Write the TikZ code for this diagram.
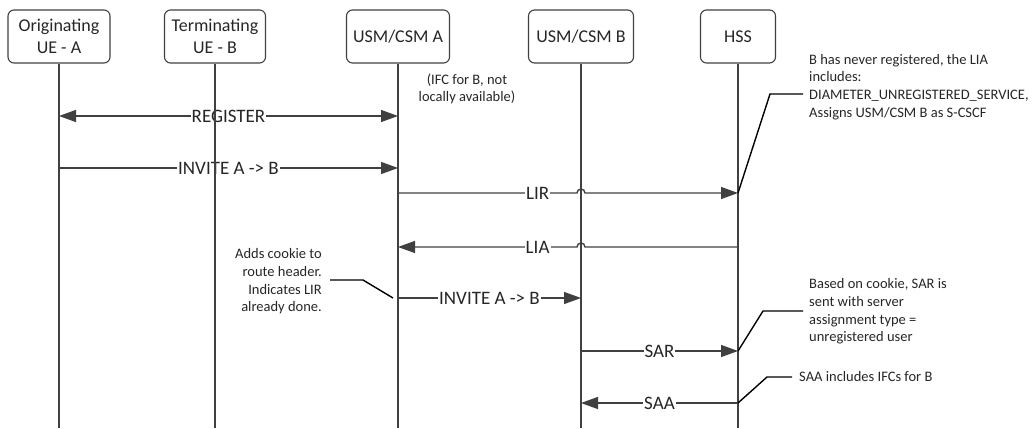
\documentclass[tikz,border=0pt]{standalone}
\usepackage{fontspec}
\setmainfont{Carlito}
\usepackage{tikz}
\usetikzlibrary{calc,arrows.meta}
\definecolor{linegray}{HTML}{404040}
\definecolor{textgray}{HTML}{262626}

\begin{document}
\begin{tikzpicture}[x=1pt,y=-1pt,
    boxnode/.style={draw=linegray, line width=1.1pt, rounded corners=6pt, minimum height=53pt, align=center, text=textgray, font=\fontsize{18}{22}\selectfont, inner sep=1pt},
    msgnode/.style={fill=white, text=textgray, inner sep=1pt, font=\fontsize{19}{20}\selectfont},
    notenode/.style={text=textgray, inner sep=0pt, font=\fontsize{14.5}{17.6}\selectfont},
    life/.style={draw=linegray, line width=1.4pt},
    msg/.style={draw=linegray, line width=1.4pt},
    leader/.style={draw=black, line width=1.4pt}]
    \useasboundingbox (0,0) rectangle (1035,428);

    \tikzset{>={Triangle[length=17pt,width=12pt]}}

    \node[boxnode, minimum width=102pt] (ueA) at (59,36.5) {Originating\\UE - A};
    \node[boxnode, minimum width=101pt] (ueB) at (215,36.5) {Terminating\\UE - B};
    \node[boxnode, minimum width=103pt] (usmA) at (398,36.5) {USM/CSM A};
    \node[boxnode, minimum width=105pt] (usmB) at (581,36.5) {USM/CSM B};
    \node[boxnode, minimum width=75pt] (hss) at (738,36.5) {HSS};

    \coordinate (bottom) at (0,428);
    \coordinate (r1) at (0,116);
    \coordinate (r2) at (0,168);
    \coordinate (r3) at (0,193);
    \coordinate (r4) at (0,247);
    \coordinate (r5) at (0,298);
    \coordinate (r6) at (0,351);
    \coordinate (r7) at (0,403);

    \node[notenode, align=center] (ifcnote) at (467,89) {(IFC for B, not\\locally available)};
    \node[notenode, align=left, anchor=west] (hssnote) at (809,87) {B has never registered, the LIA\\includes:\\DIAMETER\_UNREGISTERED\_SERVICE,\\Assigns USM/CSM B as S-CSCF};
    \node[notenode, align=right, anchor=east] (cookienote) at (322,281.5) {Adds cookie to\\route header.\\Indicates LIR\\already done.};
    \node[notenode, align=left, anchor=west] (sarnote) at (809,311.5) {Based on cookie, SAR is\\sent with server\\assignment type =\\unregistered user};
    \node[notenode, align=left, anchor=west] (saanote) at (799,377) {SAA includes IFCs for B};

    \draw[msg, <->] (ueA |- r1) -- node[msgnode] {REGISTER} (usmA |- r1);
    \draw[msg, ->] (ueA |- r2) -- node[msgnode] {INVITE A -> B} (usmA |- r2);
    \draw[msg, ->] (usmA |- r3) -- node[msgnode, pos=0.78] {LIR} ($(usmB |- r3)+(-4,0)$) arc[start angle=180, end angle=0, radius=4pt] -- (hss |- r3);
    \draw[msg, ->] (hss |- r4) -- ($(usmB |- r4)+(4,0)$) arc[start angle=0, end angle=180, radius=4pt] -- node[msgnode, pos=0.22] {LIA} (usmA |- r4);
    \draw[msg, ->] (usmA |- r5) -- node[msgnode] {INVITE A -> B} (usmB |- r5);
    \draw[msg, ->] (usmB |- r6) -- node[msgnode] {SAR} (hss |- r6);
    \draw[msg, ->] (hss |- r7) -- node[msgnode] {SAA} (usmB |- r7);

    \draw[life] (ueA.south) -- (ueA.south |- bottom);
    \draw[life] (ueB.south) -- (ueB.south |- bottom);
    \draw[life] (usmA.south) -- (usmA.south |- bottom);
    \draw[life] (usmB.south) -- (usmB.south |- bottom);
    \draw[life] (hss.south) -- (hss.south |- bottom);

    \draw[leader] (hss |- r3) -- (770,94) -- ([xshift=-6pt]hssnote.west |- 0,94);
    \draw[leader] ([xshift=-5pt]usmA |- r5) -- (363,280) -- ([xshift=8pt]cookienote.east |- 0,280);
    \draw[leader] (hss |- r6) -- (763,311) -- ([xshift=-6pt]sarnote.west |- 0,311);
    \draw[leader] (hss |- r7) -- (767,377) -- ([xshift=-7pt]saanote.west);
\end{tikzpicture}
\end{document}
